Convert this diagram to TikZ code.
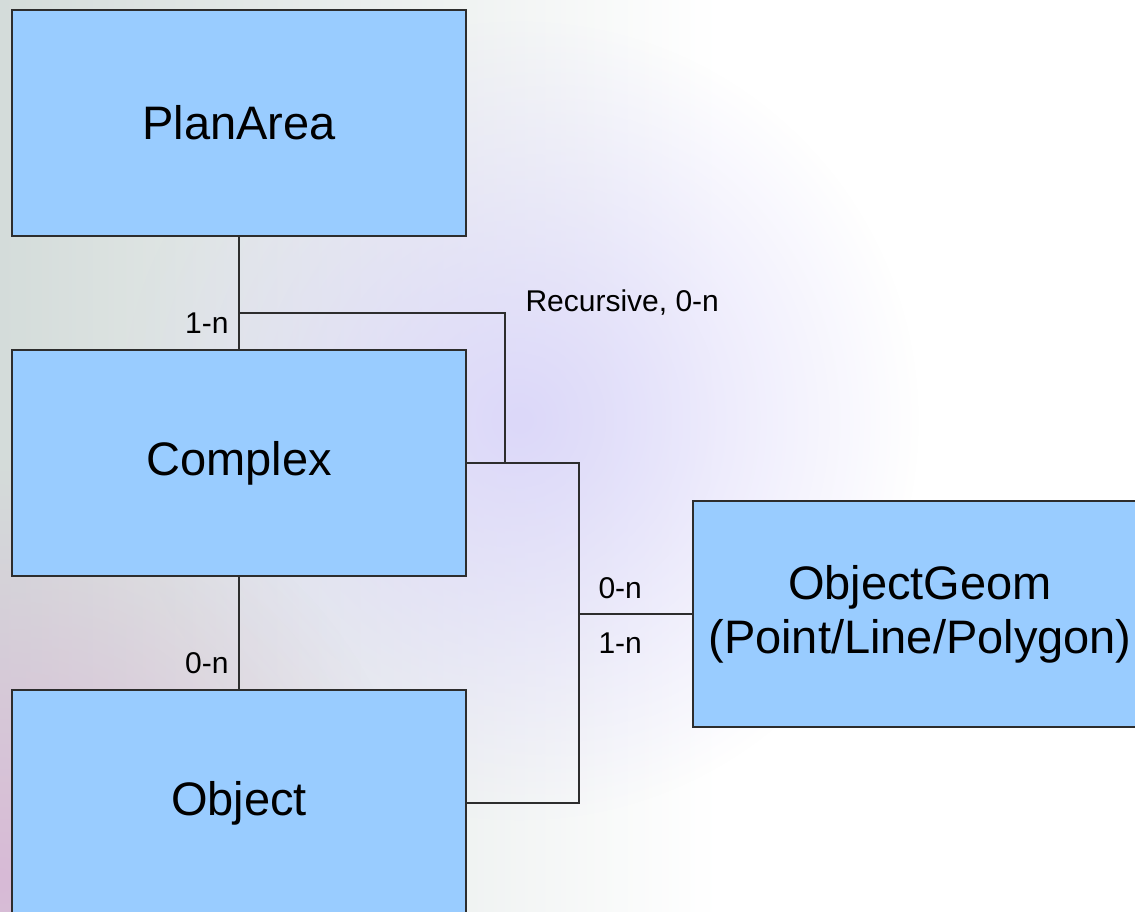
\documentclass[tikz,border=0pt]{standalone}
\usepackage{fontspec}
\setmainfont{Liberation Sans}
\usetikzlibrary{positioning,fadings}

\definecolor{boxblue}{RGB}{153,204,255}
\definecolor{linegrey}{RGB}{45,45,45}
\definecolor{bgleft}{RGB}{212,220,218}
\definecolor{bglav}{RGB}{220,216,250}
\definecolor{bgpink}{RGB}{216,186,214}

\tikzfading[name=blob fade,inner color=transparent!0,outer color=transparent!100]

\begin{document}
\begin{tikzpicture}[x=1pt,y=-1pt,node distance=114pt,line width=1.1pt]

            \tikzstyle{entity}=[rectangle,draw=linegrey,fill=boxblue,minimum width=454pt,minimum height=226pt,inner sep=0pt,outer sep=0pt,align=center,font=\fontsize{47pt}{54pt}\selectfont]
            \tikzstyle{card}=[inner sep=0pt,font=\fontsize{30pt}{36pt}\selectfont]
            \tikzstyle{link}=[draw=linegrey]

            \useasboundingbox (0,0) rectangle (1135,912);
            \clip (0,0) rectangle (1135,912);

            % background
            \fill[white] (0,0) rectangle (1135,912);
            \shade[left color=bgleft,right color=white] (0,0) rectangle (720,912);
            \fill[bglav,path fading=blob fade] (520,420) circle (400pt);
            \fill[bgpink,path fading=blob fade] (0,880) circle (420pt);

            \node[entity] (plan)    at (239,123)         {PlanArea};
            \node[entity] (complex) [below=of plan]      {Complex};
            \node[entity] (object)  [below=of complex]   {Object};
            \node[entity] (geom)    at (920,614)         {ObjectGeom\\(Point/Line/Polygon)};

            \coordinate (loop) at (505,313);
            \coordinate (bus)  at (579,614);

            \draw[link] (plan) -- (complex);
            \draw[link] (complex) -- (object);
            \draw[link] (complex.east) -| (loop) -- (plan.south |- loop);
            \draw[link] (complex.east) -| (bus) |- (object.east);
            \draw[link] (bus) -- (geom.west);

            \node[card,anchor=base east] (c1) at (229,333) {1-n};
            \node[card,anchor=base west] (rec) at (525,311) {Recursive, 0-n};
            \node[card,anchor=base west] (c2) at (598,598) {0-n};
            \node[card,anchor=base west] (c3) at (598,653) {1-n};
            \node[card,anchor=base east] (c4) at (229,673) {0-n};
        \end{tikzpicture}
\end{document}
